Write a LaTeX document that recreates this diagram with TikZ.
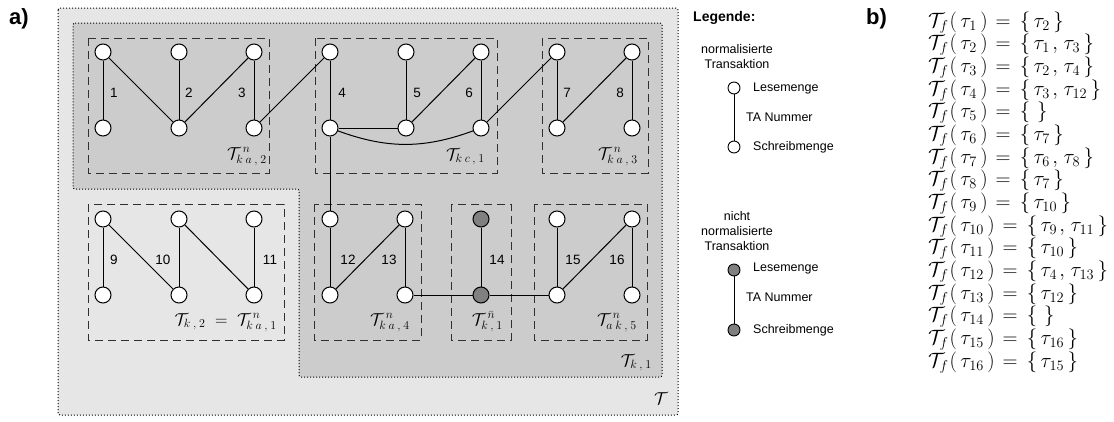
\documentclass[tikz,border=0pt]{standalone}
\usepackage{fontspec}
\setmainfont{Liberation Sans}
\newcommand{\gp}{\mkern4mu}
\newcommand{\tfl}[2]{%
  \node[listline] (l#1) at (928,{27+22.67*(#1-1)})
    {$\mathcal{T}_{f}\mkern1mu(\mkern3mu\tau_{#1}\mkern3mu)\mkern2mu=\mkern3mu\{\mkern3mu#2\mkern3mu\}$};}
\definecolor{outerbg}{HTML}{E6E6E6}
\definecolor{innerbg}{HTML}{CCCCCC}
\definecolor{nnode}{HTML}{808080}
\definecolor{dashc}{HTML}{303030}
\begin{document}
\begin{tikzpicture}[x=1pt,y=-1pt,
  tn/.style={circle,draw,fill=white,minimum size=16pt,inner sep=0pt,line width=1pt},
  tg/.style={tn,fill=nnode},
  ln/.style={circle,draw,fill=white,minimum size=12pt,inner sep=0pt,line width=0.9pt},
  lg/.style={ln,fill=nnode},
  edge/.style={line width=1pt},
  grp/.style={draw=dashc,dash pattern=on 8pt off 5pt,line width=0.85pt},
  area/.style={draw,dash pattern=on 1pt off 2pt,line width=1pt,rounded corners=2pt},
  num/.style={font=\fontsize{13.5}{15}\selectfont,inner sep=0pt},
  mlab/.style={font=\fontsize{17}{20}\selectfont,inner sep=0pt,anchor=base east},
  leg/.style={font=\fontsize{12.5}{15}\selectfont,inner sep=0pt},
  listline/.style={font=\fontsize{20}{22}\selectfont,inner sep=0pt,anchor=base west},
  panel/.style={font=\fontsize{22}{24}\selectfont\bfseries,inner sep=0pt,anchor=base west}
]
\useasboundingbox (0,0) rectangle (1114,421);

% regions T and T_{k,1}
\draw[area,fill=outerbg] (58,8) rectangle (678,415);
\draw[area,fill=innerbg] (73,23) -- (662,23) -- (662,377) -- (299,377)
  -- (299,189) -- (73,189) -- cycle;

% transaction groups
\draw[grp] (88,38) rectangle (269,173);
\draw[grp] (315,38) rectangle (497,173);
\draw[grp] (542,38) rectangle (648,173);
\draw[grp] (88,204) rectangle (284,340);
\draw[grp] (314,204) rectangle (421,340);
\draw[grp] (451,204) rectangle (511,340);
\draw[grp] (534,204) rectangle (647,340);

% transactions 1-8
\foreach \i/\x in {1/103,2/179,3/254,4/330,5/406,6/481,7/557,8/632}{
  \node[tn] (t\i) at (\x,52) {};
  \node[tn] (b\i) at (\x,128) {};
  \draw[edge] (t\i) -- (b\i);
}
% transactions 9-16
\foreach \i/\x in {9/103,10/179,11/254,12/330,13/405,15/557,16/632}{
  \node[tn] (t\i) at (\x,219) {};
  \node[tn] (b\i) at (\x,295) {};
  \draw[edge] (t\i) -- (b\i);
}
\node[tg] (t14) at (481,219) {};
\node[tg] (b14) at (481,295) {};
\draw[edge] (t14) -- (b14);

% conflicts
\draw[edge] (t1) -- (b2);
\draw[edge] (b2) -- (t3);
\draw[edge] (b3) -- (t4);
\draw[edge] (b4) -- (b5);
\draw[edge] (b4) to[bend right=20] (b6);
\draw[edge] (b5) -- (t6);
\draw[edge] (b6) -- (t7);
\draw[edge] (b7) -- (t8);
\draw[edge] (b4) -- (t12);
\draw[edge] (t9) -- (b10);
\draw[edge] (t10) -- (b11);
\draw[edge] (b12) -- (t13);
\draw[edge] (b13) -- (b14);
\draw[edge] (b14) -- (b15);
\draw[edge] (b15) -- (t16);

% transaction numbers
\foreach \n/\x in {1/114,2/189,3/242,4/342,5/417,6/469,7/567,8/620}
  \node[num] (n\n) at (\x,93) {\n};
\foreach \n/\x in {9/114,10/163,11/270,12/348,13/389,14/497,15/573,16/617}
  \node[num] (n\n) at (\x,260) {\n};

% group names
\node[mlab] (gA) at (267,159) {$\mathcal{T}^{\,n}_{k\gp a\gp,\gp 2}$};
\node[mlab] (gB) at (485,160) {$\mathcal{T}_{k\gp c\gp,\gp 1}$};
\node[mlab] (gC) at (638,159) {$\mathcal{T}^{\,n}_{k\gp a\gp,\gp 3}$};
\node[mlab] (gD) at (277,325) {$\mathcal{T}_{k\gp,\gp 2}\;=\;\mathcal{T}^{\,n}_{k\gp a\gp,\gp 1}$};
\node[mlab] (gE) at (410,325) {$\mathcal{T}^{\,n}_{k\gp a\gp,\gp 4}$};
\node[mlab] (gF) at (503,325) {$\mathcal{T}^{\,\bar{n}}_{k\gp,\gp 1}$};
\node[mlab] (gG) at (637,325) {$\mathcal{T}^{\,n}_{a\gp k\gp,\gp 5}$};
\node[mlab] (gK) at (652,366) {$\mathcal{T}_{k\gp,\gp 1}$};
\node[mlab] (gT) at (668,404) {$\mathcal{T}$};

% panel letters
\node[panel] (pa) at (9,24) {a)};
\node[panel] (pb) at (866,24) {b)};

% legend
\node[leg,anchor=west,font=\fontsize{14}{16}\selectfont\bfseries] (lt) at (693,18) {Legende:};
\node[leg,align=center] (lh1) at (737,57) {normalisierte\\Transaktion};
\node[ln] (lr1) at (734,88) {};
\node[ln] (lw1) at (734,147) {};
\draw[edge] (lr1) -- (lw1);
\node[leg,anchor=west] (lrt1) at (753,88) {Lesemenge};
\node[leg,anchor=west] (lnt1) at (746,117) {TA Nummer};
\node[leg,anchor=west] (lwt1) at (753,147) {Schreibmenge};

\node[leg,align=center] (lh2) at (737,231) {nicht\\normalisierte\\Transaktion};
\node[lg] (lr2) at (734,270) {};
\node[lg] (lw2) at (734,330) {};
\draw[edge] (lr2) -- (lw2);
\node[leg,anchor=west] (lrt2) at (753,268) {Lesemenge};
\node[leg,anchor=west] (lnt2) at (746,297) {TA Nummer};
\node[leg,anchor=west] (lwt2) at (753,330) {Schreibmenge};

% follower sets
\tfl{1}{\tau_{2}}
\tfl{2}{\tau_{1}\mkern2mu,\mkern2mu\tau_{3}}
\tfl{3}{\tau_{2}\mkern2mu,\mkern2mu\tau_{4}}
\tfl{4}{\tau_{3}\mkern2mu,\mkern2mu\tau_{12}}
\tfl{5}{}
\tfl{6}{\tau_{7}}
\tfl{7}{\tau_{6}\mkern2mu,\mkern2mu\tau_{8}}
\tfl{8}{\tau_{7}}
\tfl{9}{\tau_{10}}
\tfl{10}{\tau_{9}\mkern2mu,\mkern2mu\tau_{11}}
\tfl{11}{\tau_{10}}
\tfl{12}{\tau_{4}\mkern2mu,\mkern2mu\tau_{13}}
\tfl{13}{\tau_{12}}
\tfl{14}{}
\tfl{15}{\tau_{16}}
\tfl{16}{\tau_{15}}
\end{tikzpicture}
\end{document}
